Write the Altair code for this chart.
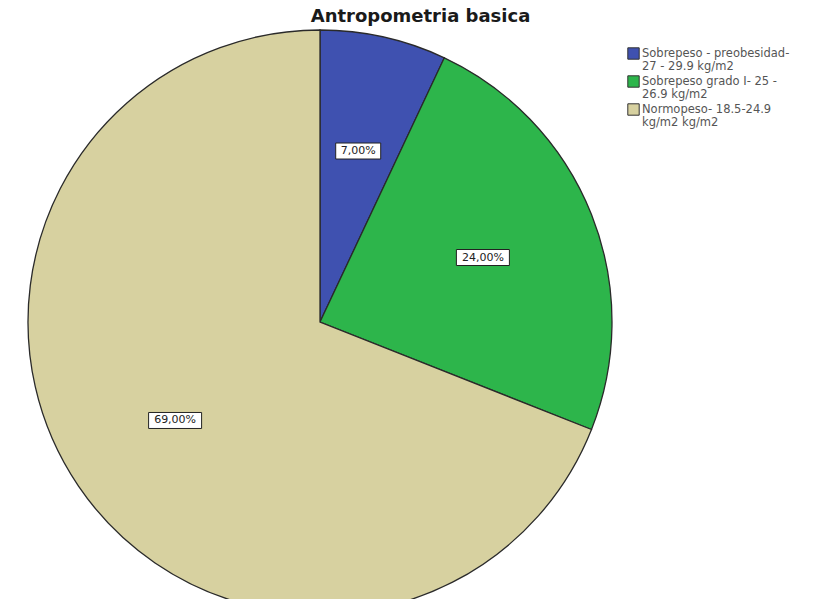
import altair as alt
import pandas as pd

# Categories (legend text, "|" marks a line break) and their percentages
categories = [
    "Sobrepeso - preobesidad-|27 - 29.9 kg/m2",
    "Sobrepeso grado I-  25 -|26.9 kg/m2",
    "Normopeso- 18.5-24.9|kg/m2 kg/m2",
]
percentages = [7.0, 24.0, 69.0]
slice_colors = ["#3F51B0", "#2DB54B", "#D7D1A0"]

df = pd.DataFrame({
    "categoria": categories,
    "pct": percentages,
    "orden": list(range(len(categories))),
})

CX, CY, R = 320, 292, 292
LABEL_R = 0.6 * R

color = alt.Color(
    "categoria:N",
    scale=alt.Scale(domain=categories, range=slice_colors),
    sort=categories,
    legend=alt.Legend(
        title=None,
        orient="none",
        legendX=627,
        legendY=17,
        symbolType="square",
        symbolSize=130,
        symbolStrokeColor="#333333",
        symbolStrokeWidth=1,
        labelFont="DejaVu Sans",
        labelFontSize=11.5,
        labelColor="#555555",
        labelExpr="split(datum.label, '|')",
        labelBaseline="middle",
        labelOffset=2,
        rowPadding=1,
        symbolOffset=0,
        padding=0,
        labelLimit=200,
    ),
)

pie = alt.Chart(df).mark_arc(
    radius=R, stroke="#2a2a2a", strokeWidth=1.3
).encode(
    theta=alt.Theta("pct:Q", stack=True),
    order=alt.Order("orden:Q"),
    color=color,
    x=alt.value(CX),
    y=alt.value(CY),
)

# Label positions at the middle angle of each slice
labels_base = alt.Chart(df).transform_window(
    cum="sum(pct)", sort=[alt.SortField("orden")]
).transform_calculate(
    mid="(datum.cum - datum.pct / 2) / 100 * 2 * PI",
    txt="replace(format(datum.pct, '.2f'), '.', ',') + '%'",
).transform_calculate(
    lx=f"{CX} + {LABEL_R} * sin(datum.mid)",
    ly=f"{CY} - {LABEL_R} * cos(datum.mid)",
).transform_calculate(
    bx1="datum.lx - (8 * length(datum.txt) + 5) / 2",
    bx2="datum.lx + (8 * length(datum.txt) + 5) / 2",
    by1="datum.ly - 8",
    by2="datum.ly + 8",
)

boxes = labels_base.mark_rect(
    fill="white", stroke="#222222", strokeWidth=1
).encode(
    x=alt.X("bx1:Q", scale=None, axis=None),
    x2="bx2:Q",
    y=alt.Y("by1:Q", scale=None, axis=None),
    y2="by2:Q",
)

texts = labels_base.mark_text(
    font="DejaVu Sans", fontSize=11, color="#222222", baseline="middle"
).encode(
    x=alt.X("lx:Q", scale=None, axis=None),
    y=alt.Y("ly:Q", scale=None, axis=None),
    text="txt:N",
)

chart = alt.layer(pie, boxes, texts).properties(
    width=813,
    height=569,
    padding={"left": 0, "top": 30, "right": 0, "bottom": 0},
    autosize=alt.AutoSizeParams(type="none"),
    title=alt.Title(
        "Antropometria basica",
        font="DejaVu Sans",
        fontSize=18,
        fontWeight="bold",
        color="#1a1a1a",
        anchor="middle",
        dx=14,
        offset=1,
    ),
).configure(
    background="white",
    view={"stroke": None},
    style={"guide-label": {"lineHeight": 13}},
)

chart.save("out.html", embed_options={"renderer": "svg", "actions": False})
